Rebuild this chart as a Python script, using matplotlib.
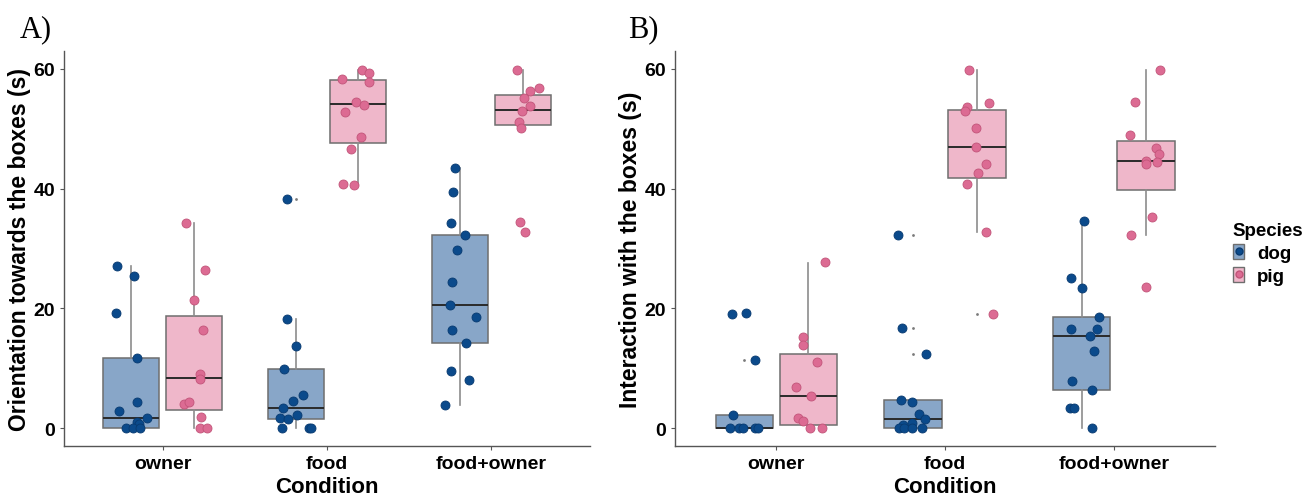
import matplotlib
matplotlib.use("Agg")
import matplotlib.pyplot as plt
from matplotlib.patches import Patch
from matplotlib.lines import Line2D
from matplotlib.legend_handler import HandlerTuple

plt.rcParams['font.family'] = ['Liberation Sans', 'DejaVu Sans']

conditions = ['owner', 'food', 'food+owner']
species = ['dog', 'pig']

# box stats per condition: [whisker low, q1, median, q3, whisker high]
a_dog_box = [[0, 0, 1.7, 11.7, 27.1], [0, 1.5, 3.3, 9.9, 18.3], [3.9, 14.2, 20.6, 32.2, 43.4]]
a_pig_box = [[0, 3.0, 8.3, 18.8, 34.2], [40.6, 47.6, 54.1, 58.1, 59.9], [50.6, 50.6, 53.1, 55.7, 59.9]]
a_dog_out = [[], [38.2], []]
a_pig_out = [[], [], [34.4, 32.8]]

b_dog_box = [[0, 0, 0, 2.1, 2.1], [0, 0, 1.5, 4.7, 4.7], [0, 6.4, 15.3, 18.6, 34.6]]
b_pig_box = [[0, 0.5, 5.3, 12.3, 27.6], [32.8, 41.7, 47.0, 53.2, 59.9], [32.2, 39.7, 44.6, 47.9, 59.9]]
b_dog_out = [[19.1, 19.3, 11.3], [32.2, 16.7, 12.4], []]
b_pig_out = [[], [19.1], [23.6]]

# individual points (seconds) and their jitter
a_dog_y = [[27.1, 25.4, 19.3, 11.7, 4.3, 2.8, 1.7, 1.0, 0.6, 0, 0, 0],
           [38.2, 18.3, 13.7, 9.9, 5.5, 4.6, 3.3, 2.1, 1.7, 1.5, 0, 0, 0],
           [43.4, 39.4, 34.2, 32.2, 29.8, 24.4, 20.6, 18.6, 16.3, 14.2, 9.5, 8.1, 3.9]]
a_dog_dx = [[-0.09, 0.017, -0.095, 0.035, 0.033, -0.075, 0.093, 0.033, 0.045, -0.033, 0.009, 0.05],
            [-0.051, -0.051, 0, -0.07, 0.047, -0.015, -0.079, 0.007, -0.095, -0.045, -0.083, 0.08, 0.095],
            [-0.032, -0.042, -0.056, 0.03, -0.02, -0.048, -0.062, 0.098, -0.052, 0.038, -0.056, 0.052, -0.092]]
a_pig_y = [[34.2, 26.4, 21.4, 16.3, 9.0, 8.2, 4.1, 4.3, 1.9, 0, 0],
           [59.9, 59.3, 58.4, 57.8, 54.5, 54.0, 52.8, 48.6, 46.6, 40.8, 40.6],
           [59.9, 56.9, 56.4, 55.1, 53.8, 53.0, 51.1, 50.2, 34.4, 32.8]]
a_pig_dx = [[-0.047, 0.067, 0, 0.055, 0.037, 0.037, -0.059, -0.029, 0.045, 0.037, 0.079],
            [0.02, 0.068, -0.098, 0.064, -0.014, 0.036, -0.082, 0.016, -0.044, -0.09, -0.024],
            [-0.034, 0.1, 0.042, 0.008, 0.046, -0.006, -0.022, -0.01, -0.018, 0.016]]

b_dog_y = [[19.1, 19.3, 11.3, 2.1, 0, 0, 0, 0, 0],
           [32.2, 16.7, 12.4, 4.7, 4.3, 2.3, 1.5, 0.8, 0.5, 0, 0, 0, 0],
           [34.6, 25.1, 23.4, 18.6, 16.6, 16.6, 15.3, 12.9, 7.9, 6.4, 3.3, 3.3, 0]]
b_dog_dx = [[-0.073, 0.012, 0.064, -0.066, -0.086, -0.03, -0.006, 0.064, 0.084],
            [-0.087, -0.066, 0.08, -0.069, -0.008, 0.036, 0.074, -0.005, -0.06, -0.08, -0.055, -0.005, 0.055],
            [0.012, -0.066, 0, 0.1, -0.066, 0.09, 0.052, 0.07, -0.06, 0.062, -0.072, -0.048, 0.062]]
b_pig_y = [[27.7, 15.2, 13.8, 11.0, 6.9, 5.3, 1.7, 1.1, 0, 0],
           [59.9, 54.3, 53.7, 52.9, 50.2, 47.0, 44.2, 42.6, 40.8, 32.8, 19.1],
           [59.9, 54.5, 49.0, 46.8, 45.8, 44.7, 44.4, 44.1, 35.2, 32.2, 23.6]]
b_pig_dx = [[0.098, -0.034, -0.03, 0.052, -0.074, 0.016, -0.064, -0.034, 0.008, 0.084],
            [-0.045, 0.072, -0.057, -0.072, -0.008, -0.006, 0.05, 0.004, -0.062, 0.05, 0.094],
            [0.083, -0.065, -0.095, 0.059, 0.081, 0, 0.065, 0, 0.039, -0.089, 0]]

box_fill = {'dog': '#88a6c8', 'pig': '#efb7ca'}
pt_color = {'dog': '#0b4a8b', 'pig': '#dc6b93'}
pt_edge = {'dog': '#083a70', 'pig': '#c25479'}
offset = {'dog': -0.19, 'pig': 0.19}
axis_col = '#555555'


def draw_panel(ax, boxes, outs, pts_y, pts_dx, ylabel):
    for sp in species:
        stats = []
        for b in boxes[sp]:
            stats.append(dict(whislo=b[0], q1=b[1], med=b[2], q3=b[3], whishi=b[4]))
        pos = [i + 1 + offset[sp] for i in range(len(conditions))]
        ax.bxp(stats, positions=pos, widths=0.34, patch_artist=True, showfliers=False,
               showcaps=False,
               boxprops=dict(facecolor=box_fill[sp], edgecolor='#6e6e6e', linewidth=1.1),
               medianprops=dict(color='#2a2a2a', linewidth=1.4),
               whiskerprops=dict(color='#8c8c8c', linewidth=1.2),
               zorder=2)
        for i in range(len(conditions)):
            o = outs[sp][i]
            if o:
                ax.scatter([pos[i]] * len(o), o, s=4, color='#7a7a7a', zorder=3, linewidths=0)
            xs = [pos[i] + d for d in pts_dx[sp][i]]
            ax.scatter(xs, pts_y[sp][i], s=42, color=pt_color[sp], edgecolors=pt_edge[sp],
                       linewidths=0.6, zorder=4)

    ax.set_xlim(0.4, 3.6)
    ax.set_ylim(-3, 63)
    ax.set_xticks([1, 2, 3])
    ax.set_xticklabels(conditions)
    ax.set_yticks([0, 20, 40, 60])
    for s in ['top', 'right']:
        ax.spines[s].set_visible(False)
    for s in ['left', 'bottom']:
        ax.spines[s].set_color(axis_col)
        ax.spines[s].set_linewidth(1.0)
    ax.tick_params(colors=axis_col, length=3, width=0.8, labelcolor='black', labelsize=14)
    for lab in ax.get_xticklabels() + ax.get_yticklabels():
        lab.set_fontweight('bold')
    ax.set_xlabel('Condition', fontsize=16, fontweight='bold', labelpad=3)
    ax.set_ylabel(ylabel, fontsize=16.5, fontweight='bold', labelpad=2)


fig = plt.figure(figsize=(13.09, 5.02), dpi=100)
ax_a = fig.add_axes([64 / 1309, 55 / 502, 526 / 1309, 395 / 502])
ax_b = fig.add_axes([675 / 1309, 55 / 502, 540 / 1309, 395 / 502])

draw_panel(ax_a, {'dog': a_dog_box, 'pig': a_pig_box}, {'dog': a_dog_out, 'pig': a_pig_out},
           {'dog': a_dog_y, 'pig': a_pig_y}, {'dog': a_dog_dx, 'pig': a_pig_dx},
           'Orientation towards the boxes (s)')
draw_panel(ax_b, {'dog': b_dog_box, 'pig': b_pig_box}, {'dog': b_dog_out, 'pig': b_pig_out},
           {'dog': b_dog_y, 'pig': b_pig_y}, {'dog': b_dog_dx, 'pig': b_pig_dx},
           'Interaction with the boxes (s)')

fig.text(20 / 1309, 1 - 30 / 502, 'A)', family='Liberation Serif', fontsize=22, va='center')
fig.text(628 / 1309, 1 - 30 / 502, 'B)', family='Liberation Serif', fontsize=22, va='center')

handles = []
for sp in species:
    handles.append((Patch(facecolor=box_fill[sp], edgecolor='#6e6e6e'),
                    Line2D([], [], marker='o', linestyle='', markersize=5,
                           color=pt_color[sp], markeredgecolor=pt_edge[sp])))
leg = fig.legend(handles, species, title='Species', loc='upper left',
                 bbox_to_anchor=(1216 / 1309, 1 - 206 / 502), frameon=False,
                 handler_map={tuple: HandlerTuple(ndivide=1, pad=0)},
                 handlelength=0.6, handleheight=0.9, handletextpad=0.7,
                 labelspacing=0.25, prop={'size': 13.5, 'weight': 'bold'},
                 title_fontproperties={'size': 13.5, 'weight': 'bold'}, alignment='left')

fig.savefig('out.png', dpi=100)
